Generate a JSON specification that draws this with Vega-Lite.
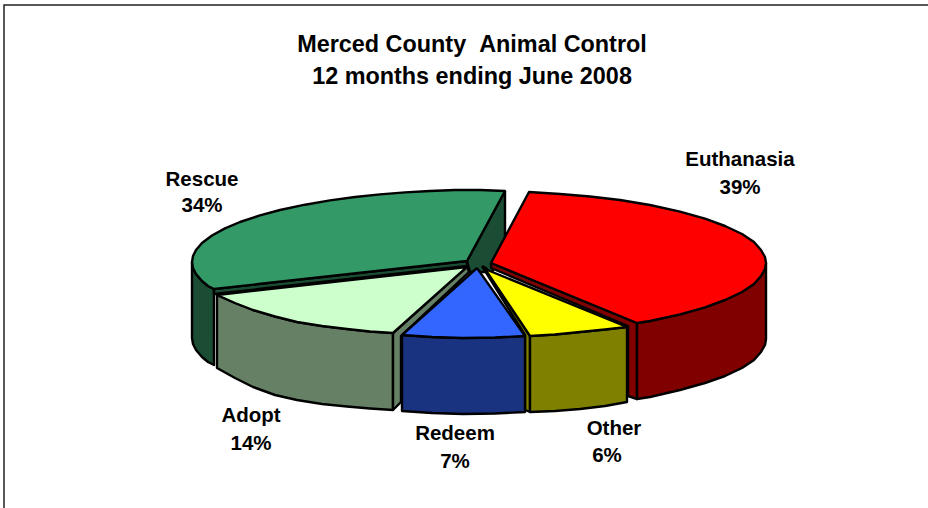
{"$schema":"https://vega.github.io/schema/vega-lite/v6.json","width":928,"height":508,"padding":0,"autosize":"none","background":"white","view":{"stroke":null},
"title":{"text":["Merced County \u00a0Animal Control","12 months ending June 2008"],"font":"Liberation Sans","fontWeight":"bold","fontSize":23.4,"lineHeight":32,"color":"black","anchor":"middle","frame":"group","offset":0,"dx":8,"dy":89,"baseline":"top"},
"datasets":{"faces":[
{"face":"Rescue back","x":505,"y":191,"s":1},{"face":"Rescue back","x":505,"y":250,"s":2},{"face":"Rescue back","x":492,"y":272,"s":3},{"face":"Rescue back","x":470,"y":272,"s":4},{"face":"Rescue back","x":467,"y":261,"s":5},{"face":"Rescue back","x":505,"y":191,"s":6},
{"face":"Rescue side","x":192,"y":262,"s":1},{"face":"Rescue side","x":193,"y":268,"s":2},{"face":"Rescue side","x":196,"y":274,"s":3},{"face":"Rescue side","x":202,"y":281,"s":4},{"face":"Rescue side","x":208,"y":286,"s":5},{"face":"Rescue side","x":214,"y":289,"s":6},{"face":"Rescue side","x":214,"y":365,"s":7},{"face":"Rescue side","x":208,"y":362,"s":8},{"face":"Rescue side","x":202,"y":357,"s":9},{"face":"Rescue side","x":196,"y":350,"s":10},{"face":"Rescue side","x":193,"y":344,"s":11},{"face":"Rescue side","x":192,"y":338,"s":12},{"face":"Rescue side","x":192,"y":262,"s":13},
{"face":"Rescue strip","x":214,"y":289,"s":1},{"face":"Rescue strip","x":467,"y":261,"s":2},{"face":"Rescue strip","x":467,"y":266,"s":3},{"face":"Rescue strip","x":214,"y":294,"s":4},{"face":"Rescue strip","x":214,"y":289,"s":5},
{"face":"Rescue top","x":467,"y":261,"s":1},{"face":"Rescue top","x":505,"y":191,"s":2},{"face":"Rescue top","x":480,"y":190,"s":3},{"face":"Rescue top","x":455,"y":190,"s":4},{"face":"Rescue top","x":430,"y":191,"s":5},{"face":"Rescue top","x":405,"y":192.4,"s":6},{"face":"Rescue top","x":380,"y":194.4,"s":7},{"face":"Rescue top","x":355,"y":197,"s":8},{"face":"Rescue top","x":330,"y":200.4,"s":9},{"face":"Rescue top","x":305,"y":204.7,"s":10},{"face":"Rescue top","x":280,"y":210,"s":11},{"face":"Rescue top","x":260,"y":215.4,"s":12},{"face":"Rescue top","x":240,"y":222,"s":13},{"face":"Rescue top","x":225,"y":228.4,"s":14},{"face":"Rescue top","x":212,"y":235.5,"s":15},{"face":"Rescue top","x":202,"y":243,"s":16},{"face":"Rescue top","x":196,"y":250,"s":17},{"face":"Rescue top","x":193,"y":256,"s":18},{"face":"Rescue top","x":192,"y":262,"s":19},{"face":"Rescue top","x":193,"y":268,"s":20},{"face":"Rescue top","x":196,"y":274,"s":21},{"face":"Rescue top","x":202,"y":281,"s":22},{"face":"Rescue top","x":208,"y":286,"s":23},{"face":"Rescue top","x":214,"y":289,"s":24},{"face":"Rescue top","x":467,"y":261,"s":25},
{"face":"Adopt side","x":217,"y":295,"s":1},{"face":"Adopt side","x":235,"y":303,"s":2},{"face":"Adopt side","x":253,"y":310,"s":3},{"face":"Adopt side","x":275,"y":316.5,"s":4},{"face":"Adopt side","x":297,"y":322,"s":5},{"face":"Adopt side","x":322,"y":326,"s":6},{"face":"Adopt side","x":347,"y":329,"s":7},{"face":"Adopt side","x":370,"y":331.5,"s":8},{"face":"Adopt side","x":393,"y":333,"s":9},{"face":"Adopt side","x":393,"y":410,"s":10},{"face":"Adopt side","x":370,"y":408.5,"s":11},{"face":"Adopt side","x":347,"y":406.5,"s":12},{"face":"Adopt side","x":322,"y":404,"s":13},{"face":"Adopt side","x":297,"y":400,"s":14},{"face":"Adopt side","x":275,"y":395,"s":15},{"face":"Adopt side","x":253,"y":387,"s":16},{"face":"Adopt side","x":235,"y":378,"s":17},{"face":"Adopt side","x":217,"y":368,"s":18},{"face":"Adopt side","x":217,"y":295,"s":19},
{"face":"Adopt inner","x":393,"y":333,"s":1},{"face":"Adopt inner","x":467,"y":266,"s":2},{"face":"Adopt inner","x":469,"y":272,"s":3},{"face":"Adopt inner","x":401,"y":336,"s":4},{"face":"Adopt inner","x":401,"y":402,"s":5},{"face":"Adopt inner","x":393,"y":410,"s":6},{"face":"Adopt inner","x":393,"y":333,"s":7},
{"face":"Adopt top","x":467,"y":267,"s":1},{"face":"Adopt top","x":393,"y":333,"s":2},{"face":"Adopt top","x":370,"y":331.5,"s":3},{"face":"Adopt top","x":347,"y":329,"s":4},{"face":"Adopt top","x":322,"y":326,"s":5},{"face":"Adopt top","x":297,"y":322,"s":6},{"face":"Adopt top","x":275,"y":316.5,"s":7},{"face":"Adopt top","x":253,"y":310,"s":8},{"face":"Adopt top","x":235,"y":303,"s":9},{"face":"Adopt top","x":217,"y":295,"s":10},{"face":"Adopt top","x":467,"y":267,"s":11},
{"face":"Red inner","x":491,"y":263,"s":1},{"face":"Red inner","x":637,"y":323,"s":2},{"face":"Red inner","x":637,"y":399,"s":3},{"face":"Red inner","x":628,"y":396,"s":4},{"face":"Red inner","x":628,"y":326,"s":5},{"face":"Red inner","x":491,"y":268,"s":6},{"face":"Red inner","x":491,"y":263,"s":7},
{"face":"Red side","x":637,"y":323,"s":1},{"face":"Red side","x":650,"y":321,"s":2},{"face":"Red side","x":680,"y":314.4,"s":3},{"face":"Red side","x":705,"y":307.4,"s":4},{"face":"Red side","x":725,"y":300,"s":5},{"face":"Red side","x":742,"y":292,"s":6},{"face":"Red side","x":754,"y":284,"s":7},{"face":"Red side","x":761,"y":276,"s":8},{"face":"Red side","x":765,"y":269,"s":9},{"face":"Red side","x":766,"y":263,"s":10},{"face":"Red side","x":766,"y":339,"s":11},{"face":"Red side","x":765,"y":345,"s":12},{"face":"Red side","x":761,"y":352,"s":13},{"face":"Red side","x":754,"y":360,"s":14},{"face":"Red side","x":742,"y":368,"s":15},{"face":"Red side","x":725,"y":376,"s":16},{"face":"Red side","x":705,"y":383,"s":17},{"face":"Red side","x":680,"y":390,"s":18},{"face":"Red side","x":650,"y":397,"s":19},{"face":"Red side","x":637,"y":399,"s":20},{"face":"Red side","x":637,"y":323,"s":21},
{"face":"Red top","x":491,"y":263,"s":1},{"face":"Red top","x":529,"y":192,"s":2},{"face":"Red top","x":560,"y":194,"s":3},{"face":"Red top","x":590,"y":196.5,"s":4},{"face":"Red top","x":620,"y":200,"s":5},{"face":"Red top","x":650,"y":205,"s":6},{"face":"Red top","x":680,"y":211.6,"s":7},{"face":"Red top","x":705,"y":218.6,"s":8},{"face":"Red top","x":725,"y":226,"s":9},{"face":"Red top","x":742,"y":234,"s":10},{"face":"Red top","x":754,"y":242,"s":11},{"face":"Red top","x":761,"y":250,"s":12},{"face":"Red top","x":765,"y":257,"s":13},{"face":"Red top","x":766,"y":263,"s":14},{"face":"Red top","x":765,"y":269,"s":15},{"face":"Red top","x":761,"y":276,"s":16},{"face":"Red top","x":754,"y":284,"s":17},{"face":"Red top","x":742,"y":292,"s":18},{"face":"Red top","x":725,"y":300,"s":19},{"face":"Red top","x":705,"y":307.4,"s":20},{"face":"Red top","x":680,"y":314.4,"s":21},{"face":"Red top","x":650,"y":321,"s":22},{"face":"Red top","x":637,"y":323,"s":23},{"face":"Red top","x":491,"y":263,"s":24},
{"face":"Other inner","x":482,"y":266,"s":1},{"face":"Other inner","x":486,"y":268,"s":2},{"face":"Other inner","x":530,"y":336,"s":3},{"face":"Other inner","x":530,"y":412,"s":4},{"face":"Other inner","x":525,"y":410,"s":5},{"face":"Other inner","x":525,"y":335,"s":6},{"face":"Other inner","x":482,"y":266,"s":7},
{"face":"Other side","x":530,"y":336,"s":1},{"face":"Other side","x":555,"y":334.5,"s":2},{"face":"Other side","x":580,"y":332,"s":3},{"face":"Other side","x":605,"y":329.5,"s":4},{"face":"Other side","x":627,"y":327,"s":5},{"face":"Other side","x":627,"y":402,"s":6},{"face":"Other side","x":605,"y":406,"s":7},{"face":"Other side","x":580,"y":409,"s":8},{"face":"Other side","x":555,"y":411,"s":9},{"face":"Other side","x":530,"y":412,"s":10},{"face":"Other side","x":530,"y":336,"s":11},
{"face":"Other top","x":485,"y":269,"s":1},{"face":"Other top","x":627,"y":327,"s":2},{"face":"Other top","x":605,"y":329.5,"s":3},{"face":"Other top","x":580,"y":332,"s":4},{"face":"Other top","x":555,"y":334.5,"s":5},{"face":"Other top","x":530,"y":336,"s":6},{"face":"Other top","x":485,"y":269,"s":7},
{"face":"Redeem side","x":402,"y":335,"s":1},{"face":"Redeem side","x":432,"y":337,"s":2},{"face":"Redeem side","x":463,"y":338,"s":3},{"face":"Redeem side","x":495,"y":337.5,"s":4},{"face":"Redeem side","x":525,"y":336,"s":5},{"face":"Redeem side","x":525,"y":412,"s":6},{"face":"Redeem side","x":495,"y":413.5,"s":7},{"face":"Redeem side","x":463,"y":414,"s":8},{"face":"Redeem side","x":432,"y":413,"s":9},{"face":"Redeem side","x":402,"y":411,"s":10},{"face":"Redeem side","x":402,"y":335,"s":11},
{"face":"Redeem top","x":477,"y":268,"s":1},{"face":"Redeem top","x":525,"y":336,"s":2},{"face":"Redeem top","x":495,"y":337.5,"s":3},{"face":"Redeem top","x":463,"y":338,"s":4},{"face":"Redeem top","x":432,"y":337,"s":5},{"face":"Redeem top","x":402,"y":335,"s":6},{"face":"Redeem top","x":477,"y":268,"s":7}
],
"labels":[
{"t":"Rescue","x":202,"y":180},{"t":"34%","x":202,"y":206},
{"t":"Euthanasia","x":740,"y":160},{"t":"39%","x":740,"y":188},
{"t":"Adopt","x":251,"y":416},{"t":"14%","x":251,"y":444},
{"t":"Redeem","x":455,"y":434},{"t":"7%","x":455,"y":462},
{"t":"Other","x":614,"y":429},{"t":"6%","x":607,"y":456}
],
"frame":[{"x":4,"y":508,"s":1},{"x":4,"y":5,"s":2},{"x":928,"y":5,"s":3}]},
"layer":[
{"data":{"name":"frame"},"mark":{"type":"line","stroke":"#222","strokeWidth":1.5},"encoding":{"x":{"field":"x","type":"quantitative","scale":{"domain":[0,928]},"axis":null},"y":{"field":"y","type":"quantitative","scale":{"domain":[508,0]},"axis":null},"order":{"field":"s"}}},
{"data":{"name":"faces"},"mark":{"type":"line","stroke":"black","strokeWidth":2.4,"strokeJoin":"round"},"encoding":{
"x":{"field":"x","type":"quantitative","scale":{"domain":[0,928]},"axis":null},
"y":{"field":"y","type":"quantitative","scale":{"domain":[508,0]},"axis":null},
"order":{"field":"s"},
"fill":{"field":"face","type":"nominal","legend":null,"sort":null,"scale":{"domain":["Rescue back","Rescue side","Rescue strip","Rescue top","Adopt side","Adopt inner","Adopt top","Red inner","Red side","Red top","Other inner","Other side","Other top","Redeem side","Redeem top"],"range":["#1a4d33","#1a4d33","#1a4d33","#339966","#668066","#668066","#ccffcc","#800000","#800000","#ff0000","#808000","#808000","#ffff00","#1a3380","#3366ff"]}}}},
{"data":{"name":"labels"},"mark":{"type":"text","font":"Liberation Sans","fontWeight":"bold","fontSize":20.5,"color":"black"},"encoding":{"x":{"field":"x","type":"quantitative","scale":{"domain":[0,928]},"axis":null},"y":{"field":"y","type":"quantitative","scale":{"domain":[508,0]},"axis":null},"text":{"field":"t"}}}
]}
